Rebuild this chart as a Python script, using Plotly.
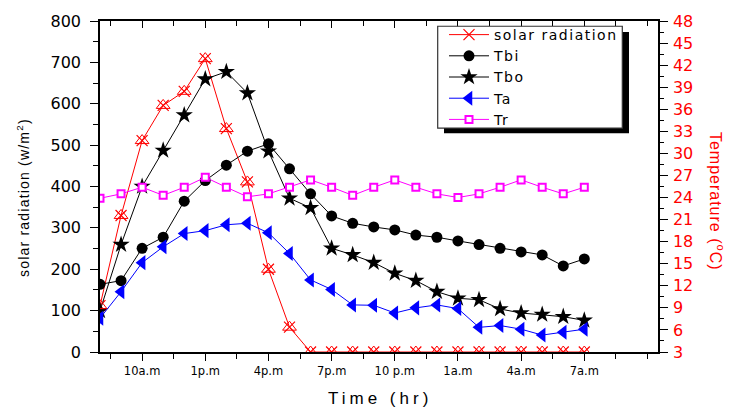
import plotly.graph_objects as go

# ---------------- data ----------------
hours = [8, 9, 10, 11, 12, 13, 14, 15, 16, 17, 18, 19, 20, 21, 22, 23,
         24, 25, 26, 27, 28, 29, 30, 31]
solar = [112, 330, 511, 596, 630, 709, 540, 411, 200, 60, 0, 0, 0, 0, 0, 0,
         0, 0, 0, 0, 0, 0, 0, 0]
tbi = [12.2, 12.7, 17.1, 18.6, 23.5, 26.3, 28.4, 30.3, 31.3, 27.9, 24.5, 21.5,
       20.5, 20.0, 19.6, 18.9, 18.6, 18.1, 17.6, 17.1, 16.6, 16.2, 14.7, 15.65]
tbo = [8.6, 17.6, 25.5, 30.4, 35.2, 40.1, 41.1, 38.2, 30.3, 23.9, 22.6, 17.1,
       16.2, 15.15, 13.7, 12.7, 11.2, 10.3, 10.1, 8.85, 8.3, 8.1, 7.8, 7.3]
ta = [7.6, 11.2, 15.15, 17.3, 19.1, 19.5, 20.3, 20.5, 19.2, 16.4, 12.8, 11.5,
      9.4, 9.35, 8.3, 9.0, 9.4, 8.9, 6.35, 6.6, 6.1, 5.3, 5.7, 6.1]
tr = [23.9, 24.5, 25.4, 24.3, 25.4, 26.75, 25.4, 24.1, 24.5, 25.4, 26.4, 25.4,
      24.3, 25.4, 26.4, 25.4, 24.5, 24.0, 24.5, 25.4, 26.4, 25.4, 24.5, 25.4]

x_tickvals = [10, 13, 16, 19, 22, 25, 28, 31]
x_ticktext = ["10a.m", "1p.m", "4p.m", "7p.m", "10 p.m", "1a.m", "4a.m", "7a.m"]
left_tickvals = [0, 100, 200, 300, 400, 500, 600, 700, 800]
right_tickvals = [3, 6, 9, 12, 15, 18, 21, 24, 27, 30, 33, 36, 39, 42, 45, 48]

FONT = "Liberation Sans, Arial, sans-serif"
WIDE = "DejaVu Sans, Verdana, sans-serif"


def sp(text, ls):
    return '<span style="letter-spacing:%spx">%s</span>' % (ls, text)


# ---------------- geometry helpers (pixels -> paper) ----------------
L, R, T, B = 100, 71, 19, 62
W, H = 729, 414
PW, PH = W - L - R, H - T - B


def px(xp):
    return (xp - L) / PW


def py(yp):
    return (H - B - yp) / PH


fig = go.Figure()

fig.add_trace(go.Scatter(
    x=hours, y=solar, name=sp("solar radiation", 1.5), mode="lines+markers",
    line=dict(color="#ff0000", width=1),
    marker=dict(symbol="x-thin-open", size=11, color="#ff0000",
                line=dict(color="#ff0000", width=1.2)),
    xaxis="x", yaxis="y"))
fig.add_trace(go.Scatter(
    x=hours, y=solar, mode="markers", showlegend=False, hoverinfo="skip",
    marker=dict(symbol="triangle-up-open", size=12, color="#ff0000",
                line=dict(color="#ff0000", width=1)),
    xaxis="x2", yaxis="y"))

fig.add_trace(go.Scatter(
    x=hours, y=tbi, name=sp("Tbi", 1.5), mode="lines+markers",
    line=dict(color="black", width=1),
    marker=dict(symbol="circle", size=11, color="black"),
    xaxis="x", yaxis="y2"))
fig.add_trace(go.Scatter(
    x=hours, y=tbo, name=sp("Tbo", 1.5), mode="lines+markers",
    line=dict(color="black", width=1),
    marker=dict(symbol="star", size=13, color="black"),
    xaxis="x", yaxis="y2"))
fig.add_trace(go.Scatter(
    x=hours, y=ta, name=sp("Ta", 1.5), mode="lines+markers",
    line=dict(color="#0000ff", width=1),
    marker=dict(symbol="triangle-left", size=13, color="#0000ff"),
    xaxis="x", yaxis="y2"))
fig.add_trace(go.Scatter(
    x=hours, y=tr, name=sp("Tr", 1.5), mode="lines+markers",
    line=dict(color="#ff00ff", width=1),
    marker=dict(symbol="square", size=7, color="white",
                line=dict(color="#ff00ff", width=2)),
    xaxis="x", yaxis="y2"))

xcommon = dict(range=[8, 34.5], showgrid=False, zeroline=False,
               showline=True, linecolor="black", linewidth=1.5,
               tickmode="array", tickvals=x_tickvals, tickcolor="black",
               tickwidth=1.2)

fig.update_layout(
    width=W, height=H,
    margin=dict(l=L, r=R, t=T, b=B, pad=0),
    paper_bgcolor="white", plot_bgcolor="white",
    font=dict(family=FONT, color="black"),
    showlegend=True,
    legend=dict(x=px(444), y=py(17), xanchor="left", yanchor="top",
                bgcolor="rgba(0,0,0,0)", borderwidth=0,
                font=dict(size=14, color="black", family=WIDE),
                tracegroupgap=0, itemwidth=40),
    xaxis=dict(**xcommon, ticks="outside", ticklen=7,
               ticktext=x_ticktext,
               tickfont=dict(size=11.5, color="black", family=WIDE),
               ticklabelstandoff=0,
               minor=dict(ticks="outside", ticklen=5, tickmode="linear",
                          tick0=8.5, dtick=1.5, tickcolor="black", tickwidth=1.2),
               anchor="y"),
    xaxis2=dict(**xcommon, overlaying="x", side="top", ticks="inside",
                ticklen=7, showticklabels=False,
                minor=dict(ticks="inside", ticklen=5, tickmode="linear",
                           tick0=8.5, dtick=1.5, tickcolor="black", tickwidth=1.2),
                anchor="y"),
    yaxis=dict(range=[0, 800], showgrid=False, zeroline=False,
               showline=True, linecolor="black", linewidth=1.5,
               tickmode="array", tickvals=left_tickvals,
               ticktext=[str(v) for v in left_tickvals],
               ticks="outside", ticklen=8, tickcolor="black", tickwidth=1.2,
               tickfont=dict(size=16, color="black", family=WIDE),
               ticklabelstandoff=6,
               minor=dict(ticks="outside", ticklen=5, tickmode="linear",
                          tick0=50, dtick=100, tickcolor="black", tickwidth=1.2),
               anchor="x"),
    yaxis2=dict(range=[3, 48], overlaying="y", side="right", anchor="x",
                showgrid=False, zeroline=False,
                showline=True, linecolor="black", linewidth=1.5,
                tickmode="array", tickvals=right_tickvals,
                ticktext=[str(v) for v in right_tickvals],
                ticks="outside", ticklen=8, tickcolor="black", tickwidth=1.2,
                tickfont=dict(size=16, color="#ff0000", family=WIDE),
                ticklabelstandoff=2,
                minor=dict(ticks="outside", ticklen=4, tickmode="linear",
                           tick0=4.5, dtick=3, tickcolor="black", tickwidth=1.2)),
)

# legend box with drop shadow
fig.add_shape(type="rect", xref="paper", yref="paper",
              x0=px(444), x1=px(629), y0=py(132), y1=py(30),
              fillcolor="black", line=dict(width=0), layer="above")
fig.add_shape(type="rect", xref="paper", yref="paper",
              x0=px(437.7), x1=px(622.3), y0=py(126.7), y1=py(24.3),
              fillcolor="white", line=dict(color="#333333", width=1.2),
              layer="above")

# axis titles
fig.add_annotation(text=sp("solar radiation (w/m<sup>2</sup>)", 1.2),
                   xref="paper", yref="paper", x=px(23), y=py(197),
                   xanchor="center", yanchor="middle", textangle=-90,
                   showarrow=False, font=dict(size=14, color="black"))
fig.add_annotation(text=sp("Temperature (<sup>o</sup>C)", 1),
                   xref="paper", yref="paper", x=px(717), y=py(200),
                   xanchor="center", yanchor="middle", textangle=90,
                   showarrow=False, font=dict(size=16, color="#ff0000"))
fig.add_annotation(text=sp("Time (hr)", 4),
                   xref="paper", yref="paper", x=px(380), y=py(399),
                   xanchor="center", yanchor="middle",
                   showarrow=False, font=dict(size=17, color="black"))

fig.write_html("out.html", config={"displayModeBar": False},
               post_script="document.body.style.margin='0';"
                           "document.body.style.overflow='hidden';")
